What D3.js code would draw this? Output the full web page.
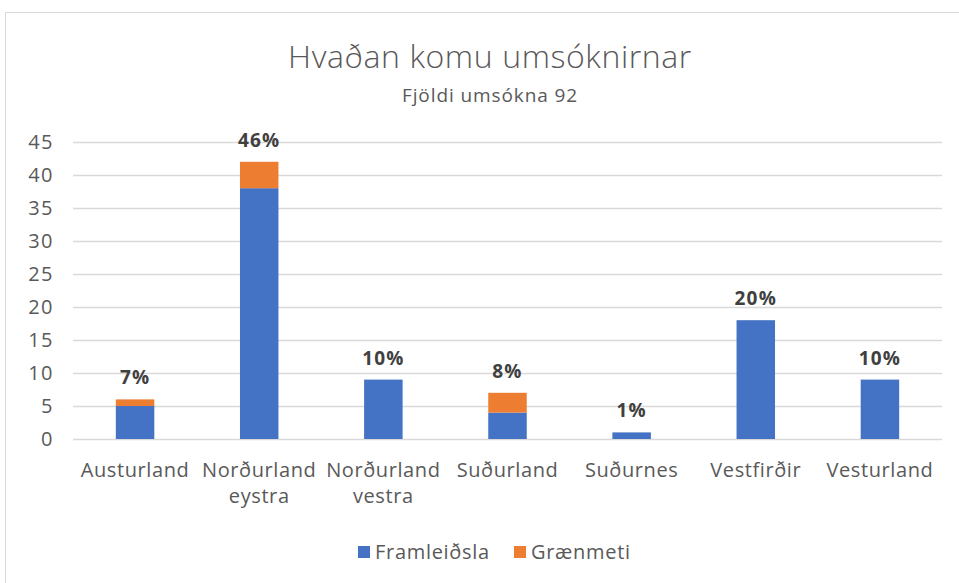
<!DOCTYPE html>
<html><head><meta charset="utf-8">
<script src="https://cdn.jsdelivr.net/npm/d3@7"></script>
<style>body{margin:0;background:#fff;}svg{display:block;font-family:"Open Sans",sans-serif;}</style>
</head><body>
<svg id="c" width="959" height="583"></svg>
<script>
const categories = ["Austurland","Norðurland eystra","Norðurland vestra","Suðurland","Suðurnes","Vestfirðir","Vesturland"];
const framleidsla = [5,38,9,4,1,18,9];
const graenmeti = [1,4,0,3,0,0,0];
const pctLabels = ["7%","46%","10%","8%","1%","20%","10%"];
const yTicks = [0,5,10,15,20,25,30,35,40,45];
const seriesNames = ["Framleiðsla","Grænmeti"];
const colors = ["#4472C4","#ED7D31"];

const svg = d3.select("#c");
svg.append("rect").attr("x",5.5).attr("y",12.5).attr("width",960).attr("height",580)
  .attr("fill","#fff").attr("stroke","#d9d9d9");

const x = d3.scaleBand().domain(categories).range([73,942]).paddingInner(0.69).paddingOuter(0.345);
const y = d3.scaleLinear().domain([0,45]).range([439,142]);

// gridlines
svg.append("g").selectAll("line").data(yTicks).join("line")
  .attr("x1",73).attr("x2",942).attr("y1",d=>Math.round(y(d))+0.5).attr("y2",d=>Math.round(y(d))+0.5)
  .attr("stroke","#d9d9d9").attr("stroke-width",1.5);

// y axis labels
const yAxis = d3.axisLeft(y).tickValues(yTicks).tickSize(0).tickPadding(0);
const ya = svg.append("g").attr("transform","translate(54,0)").call(yAxis);
ya.select(".domain").remove();
ya.selectAll("text").attr("fill","#595959").attr("font-size",20).attr("letter-spacing",1.5).attr("font-family","Open Sans");

const data = categories.map((c,i)=>({c, a:framleidsla[i], b:graenmeti[i], p:pctLabels[i]}));
const stack = d3.stack().keys(["a","b"])(data);
svg.append("g").selectAll("g").data(stack).join("g").attr("fill",(d,i)=>colors[i])
  .selectAll("rect").data(d=>d).join("rect")
  .attr("x",d=>x(d.data.c)).attr("width",x.bandwidth())
  .attr("y",d=>y(d[1])).attr("height",d=>y(d[0])-y(d[1]));

// data labels
svg.append("g").selectAll("text").data(data).join("text")
  .attr("x",d=>x(d.c)+x.bandwidth()/2).attr("y",d=>y(d.a+d.b)-15)
  .attr("text-anchor","middle").attr("font-size",19).attr("letter-spacing",1.2).attr("font-weight","bold").attr("fill","#404040")
  .text(d=>d.p);

// x labels
const xl = svg.append("g").selectAll("text").data(categories).join("text")
  .attr("x",d=>x(d)+x.bandwidth()/2).attr("y",477)
  .attr("text-anchor","middle").attr("font-size",20).attr("letter-spacing",0.6).attr("fill","#595959");
xl.each(function(d){
  const parts = d.split(" ");
  const t = d3.select(this);
  parts.forEach((p,i)=>t.append("tspan").attr("x",x(d)+x.bandwidth()/2).attr("dy",i?26:0).text(p));
});

// title
svg.append("text").attr("x",490).attr("y",68).attr("text-anchor","middle")
  .attr("font-size",32).attr("letter-spacing",0.6).attr("font-weight",300).attr("fill","#595959").text("Hvaðan komu umsóknirnar");
svg.append("text").attr("x",490).attr("y",102).attr("text-anchor","middle")
  .attr("font-size",19).attr("letter-spacing",0.9).attr("fill","#595959").text("Fjöldi umsókna 92");

// legend
const legX = [358,514];
const lg = svg.append("g").selectAll("g").data(seriesNames).join("g")
  .attr("transform",(d,i)=>`translate(${legX[i]},546)`);
lg.append("rect").attr("width",12).attr("height",12).attr("fill",(d,i)=>colors[i]);
lg.append("text").attr("x",17).attr("y",12.5).attr("font-size",20).attr("letter-spacing",0.7).attr("fill","#595959").text(d=>d);
</script>
</body></html>
